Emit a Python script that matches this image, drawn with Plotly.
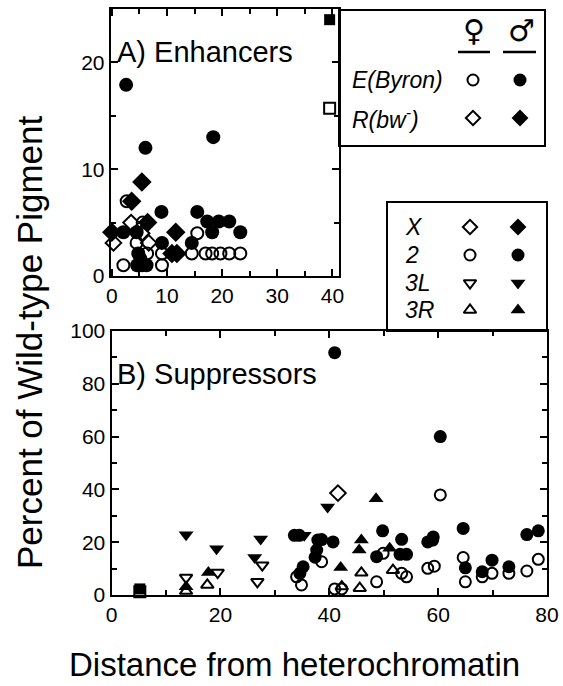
import plotly.graph_objects as go

W, H = 563, 686

# ---------------- DATA ----------------
# Panel A (Enhancers): E(Byron) = circles, R(bw-) = diamonds; open = female, filled = male
A_E_female_x = [2.7, 5.6, 15.5, 4.5, 6.4, 9.1, 14.5, 17.0, 18.2, 19.7, 21.3, 23.3, 2.1, 9.1]
A_E_female_y = [7.0, 5.0, 4.0, 3.1, 2.1, 2.1, 2.1, 2.1, 2.1, 2.1, 2.1, 2.1, 1.0, 1.0]
A_E_male_x = [2.6, 6.1, 18.4, 9.0, 15.5, 17.3, 19.4, 21.3, 18.2, 23.3, 2.1, 4.5,
              9.1, 14.5, 4.8, 5.2, 4.6, 5.5, 6.3]
A_E_male_y = [17.9, 12.0, 13.0, 6.0, 6.0, 5.1, 5.1, 5.1, 4.1, 4.1, 4.1, 4.1,
              3.1, 3.1, 2.1, 1.6, 1.0, 1.0, 1.0]
A_R_female_x = [3.5, 5.4, 0.3, 6.7]
A_R_female_y = [5.0, 4.0, 3.1, 3.1]
A_R_male_x = [5.45, 3.6, 6.5, 0.0, 11.6, 10.9, 11.8]
A_R_male_y = [8.8, 7.0, 5.0, 4.1, 4.1, 2.1, 2.1]
A_other_female_x = [39.5]
A_other_female_y = [15.7]
A_other_male_x = [39.5]
A_other_male_y = [24.0]

# Panel B (Suppressors): X = diamonds, 2 = circles, 3L = down triangles, 3R = up triangles
B_X_female_x = [41.6]
B_X_female_y = [38.6]
B_2_female_x = [38.6, 34.0, 34.9, 48.7, 41.0, 42.3, 49.9, 53.3, 54.2, 58.1, 59.3,
                60.4, 64.6, 65.0, 68.1, 69.9, 73.0, 76.3, 78.4]
B_2_female_y = [12.6, 6.9, 3.8, 5.0, 2.3, 2.3, 15.8, 8.2, 6.9, 10.1, 10.9,
                37.9, 14.2, 5.0, 6.9, 8.2, 8.2, 9.1, 13.5]
B_2_male_x = [41.0, 60.4, 33.6, 34.5, 37.9, 37.7, 37.4, 35.2, 34.6, 40.7, 38.6,
              49.8, 53.3, 48.7, 53.0, 54.2, 58.1, 59.1, 59.0, 64.6, 65.0,
              69.9, 68.1, 73.0, 76.3, 78.4]
B_2_male_y = [91.8, 60.0, 22.6, 22.6, 20.8, 17.0, 14.3, 10.7, 8.2, 20.1, 21.0,
              24.3, 21.1, 14.5, 15.4, 15.4, 20.1, 22.0, 20.8, 25.2, 10.3,
              13.2, 8.8, 10.7, 22.9, 24.3]
B_3L_female_x = [13.7, 19.5, 27.7, 26.8]
B_3L_female_y = [6.6, 8.5, 11.3, 5.0]
B_3L_male_x = [13.7, 19.3, 27.4, 26.3, 35.4, 39.7]
B_3L_male_y = [22.8, 17.5, 21.2, 14.2, 22.6, 33.3]
B_3R_female_x = [13.7, 17.6, 45.9, 45.6, 42.3, 51.7]
B_3R_female_y = [1.5, 3.8, 8.4, 2.6, 3.2, 9.4]
B_3R_male_x = [13.7, 17.8, 48.6, 45.9, 45.5, 42.1, 51.1]
B_3R_male_y = [3.1, 8.5, 36.5, 20.8, 17.0, 10.4, 17.7]
B_other_female_x = [5.2]
B_other_female_y = [1.2]
B_other_male_x = [5.2]
B_other_male_y = [2.3]

# tick values
A_xticks = [0, 10, 20, 30, 40]
A_yticks = [0, 10, 20]
B_xticks = [0, 20, 40, 60, 80]
B_yticks = [0, 20, 40, 60, 80, 100]

# legend texts
legA_rows = ["<i>E(Byron)</i>", "<i>R(bw<sup>-</sup>)</i>"]
legB_rows = ["<i>X</i>", "<i>2</i>", "<i>3L</i>", "<i>3R</i>"]

# ---------------- FIGURE ----------------
FONT = "Liberation Sans, Arial, Helvetica, sans-serif"
fig = go.Figure()


def px2x(p):
    return p / W


def py2y(p):
    return 1 - p / H


def add(xs, ys, sym, size, xa, ya, filled):
    if filled:
        marker = dict(symbol=sym, size=size, color="black", line=dict(width=0))
    else:
        marker = dict(symbol=sym + "-open", size=size, color="black",
                      line=dict(width=2, color="black"))
    fig.add_trace(go.Scatter(x=xs, y=ys, mode="markers", marker=marker,
                             xaxis=xa, yaxis=ya, showlegend=False,
                             cliponaxis=False, hoverinfo="x+y"))


# Panel A
add(A_E_male_x, A_E_male_y, "circle", 14, "x", "y", True)
add(A_R_male_x, A_R_male_y, "diamond", 15, "x", "y", True)
add(A_other_male_x, A_other_male_y, "square", 11, "x", "y", True)
add(A_E_female_x, A_E_female_y, "circle", 12, "x", "y", False)
add(A_R_female_x, A_R_female_y, "diamond", 12, "x", "y", False)
add(A_other_female_x, A_other_female_y, "square", 11, "x", "y", False)

# Panel B
add(B_2_male_x, B_2_male_y, "circle", 13, "x2", "y2", True)
add(B_3L_male_x, B_3L_male_y, "triangle-down", 13, "x2", "y2", True)
add(B_3R_male_x, B_3R_male_y, "triangle-up", 13, "x2", "y2", True)
add(B_other_male_x, B_other_male_y, "square", 11, "x2", "y2", True)
add(B_2_female_x, B_2_female_y, "circle", 11, "x2", "y2", False)
add(B_3L_female_x, B_3L_female_y, "triangle-down", 11, "x2", "y2", False)
add(B_3R_female_x, B_3R_female_y, "triangle-up", 11, "x2", "y2", False)
add(B_X_female_x, B_X_female_y, "diamond", 12, "x2", "y2", False)
add(B_other_female_x, B_other_female_y, "square", 11, "x2", "y2", False)

# Legend markers on an overlay pixel axis
legA_sym = ["circle", "diamond"]
legA_ypx = [80, 118]
for sym, yp in zip(legA_sym, legA_ypx):
    add([473], [yp], sym, 11, "x3", "y3", False)
    add([520], [yp], sym, 13, "x3", "y3", True)
legB_sym = ["diamond", "circle", "triangle-down", "triangle-up"]
legB_ypx = [227, 255, 283, 310]
for sym, yp in zip(legB_sym, legB_ypx):
    add([470], [yp], sym, 11, "x3", "y3", False)
    add([518], [yp], sym, 13, "x3", "y3", True)

axis_common = dict(showline=True, linecolor="black", linewidth=2, mirror="ticks",
                   ticks="inside", ticklen=7, tickwidth=2, tickcolor="black",
                   showgrid=False, zeroline=False, automargin=False,
                   tickfont=dict(family=FONT, size=21, color="black"))
minor_common = dict(ticks="inside", ticklen=5, tickwidth=2, tickcolor="black")

A_xdom = [px2x(110.7), px2x(339)]
A_ydom = [py2y(276), py2y(9)]
B_xdom = [px2x(111.5), px2x(547)]
B_ydom = [py2y(595), py2y(331)]

fig.update_layout(
    template="none",
    width=W, height=H, margin=dict(l=0, r=0, t=0, b=0, pad=0), autosize=False,
    paper_bgcolor="white", plot_bgcolor="rgba(0,0,0,0)", showlegend=False,
    xaxis=dict(domain=A_xdom, range=[-0.2, 41.2], anchor="y", tickvals=A_xticks,
               minor=dict(dtick=5, **minor_common), **axis_common),
    yaxis=dict(domain=A_ydom, range=[0, 25], anchor="x", tickvals=A_yticks,
               minor=dict(dtick=5, **minor_common), **axis_common),
    xaxis2=dict(domain=B_xdom, range=[0, 80], anchor="y2", tickvals=B_xticks,
                minor=dict(dtick=10, **minor_common), **axis_common),
    yaxis2=dict(domain=B_ydom, range=[0, 100], anchor="x2", tickvals=B_yticks,
                minor=dict(dtick=10, **minor_common), **axis_common),
    xaxis3=dict(domain=[0, 1], range=[0, W], anchor="y3", visible=False, automargin=False),
    yaxis3=dict(domain=[0, 1], range=[H, 0], anchor="x3", visible=False, automargin=False),
)

shapes = []
# legend box A
shapes.append(dict(type="rect", xref="paper", yref="paper",
                   x0=px2x(339), x1=px2x(545), y0=py2y(146), y1=py2y(10),
                   line=dict(color="black", width=2), fillcolor="rgba(0,0,0,0)", layer="above"))
# legend box B
shapes.append(dict(type="rect", xref="paper", yref="paper",
                   x0=px2x(387), x1=px2x(547), y0=py2y(331), y1=py2y(202),
                   line=dict(color="black", width=2), fillcolor="rgba(0,0,0,0)", layer="above"))
# underlines for sex symbols
for a, b in [(458, 490), (503, 536)]:
    shapes.append(dict(type="line", xref="paper", yref="paper",
                       x0=px2x(a), x1=px2x(b), y0=py2y(52), y1=py2y(52),
                       line=dict(color="black", width=2.5)))
fig.update_layout(shapes=shapes)

ann = []


def text(s, xp, yp, size, xanchor="center", angle=0, family=FONT):
    ann.append(dict(text=s, x=px2x(xp), y=py2y(yp), xref="paper", yref="paper",
                    showarrow=False, xanchor=xanchor, yanchor="middle",
                    textangle=angle, font=dict(family=family, size=size, color="black")))


text("A) Enhancers", 115, 52, 29, xanchor="left")
text("B) Suppressors", 115, 374, 29, xanchor="left")
text("Percent of Wild-type Pigment", 30, 342, 35, angle=-90)
text("Distance from heterochromatin", 294, 664, 33)
text("<b>♀</b>", 474, 31, 30, family="DejaVu Sans")
text("<b>♂</b>", 521, 30, 30, family="DejaVu Sans")
for s, yp in zip(legA_rows, legA_ypx):
    text(s, 350, yp, 23, xanchor="left")
for s, yp in zip(legB_rows, legB_ypx):
    text(s, 403, yp, 23, xanchor="left")
fig.update_layout(annotations=ann)

fig.write_html("out.html", config={"displayModeBar": False},
               post_script="document.body.style.margin='0';document.body.style.overflow='hidden';")
